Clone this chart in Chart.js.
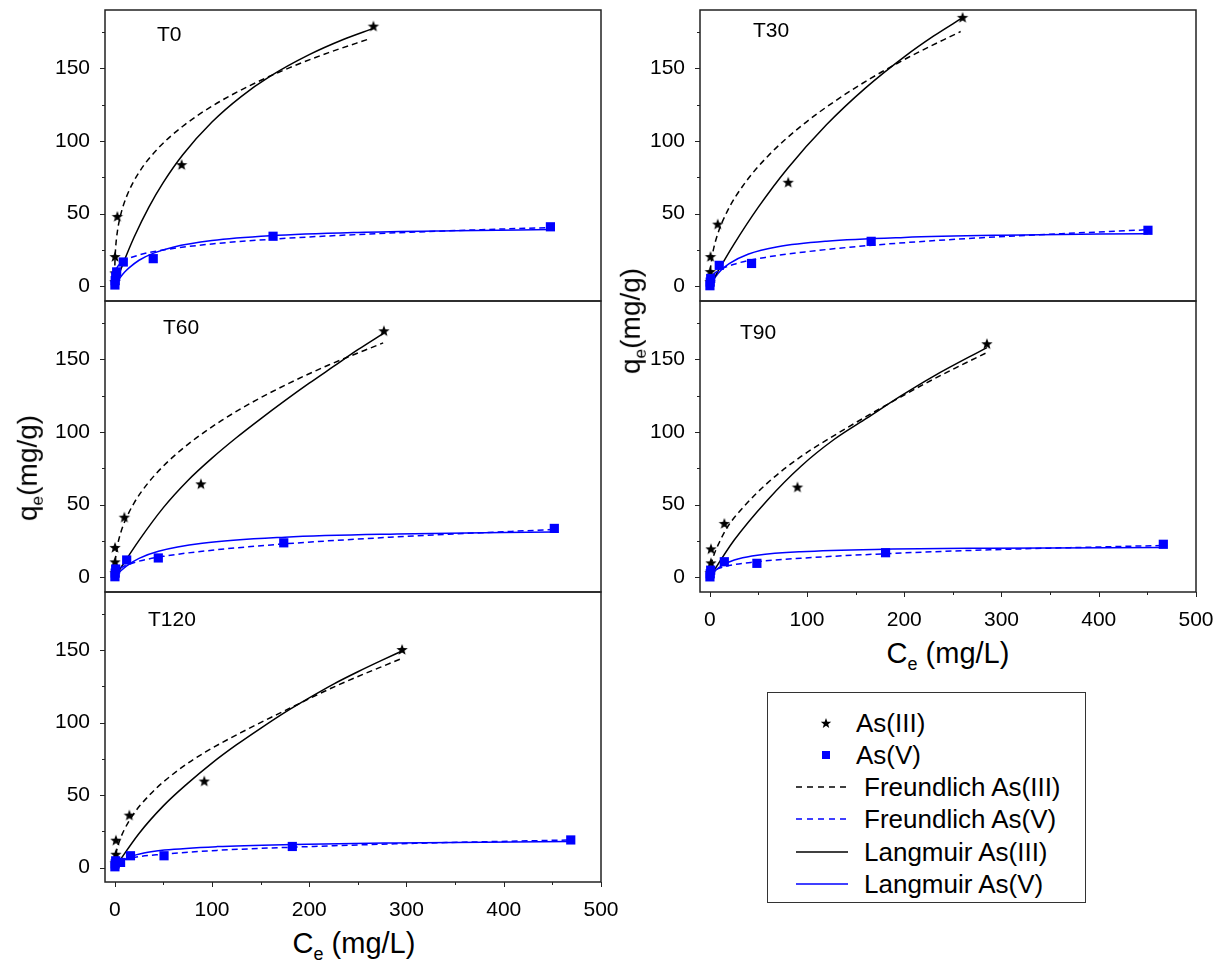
<!DOCTYPE html>
<html lang="en">
<head>
<meta charset="UTF-8">
<title>As(III) / As(V) adsorption isotherms</title>
<script src="https://cdn.jsdelivr.net/npm/chart.js"></script>
<style>
    body { margin: 0; background: #fff; font-family: "Liberation Sans", Arial, sans-serif; }
    #page { position: relative; width: 1220px; height: 966px; overflow: hidden; }
    #page canvas { position: absolute; }
    .title { position: absolute; color: #000; white-space: nowrap; line-height: 1; }
    .title sub { font-size: 62%; vertical-align: -0.35em; }
    .ytitle { font-size: 28px; transform: translate(-50%, -50%) rotate(-90deg); }
    .xtitle { font-size: 29px; transform: translate(-50%, -50%); }
    #legend { position: absolute; left: 767px; top: 692px; width: 319px; height: 211px;
              border: 1px solid #333; box-sizing: border-box; }
    #legend svg { position: absolute; }
    #legend span { position: absolute; font-size: 26px; line-height: 30px; color: #000; white-space: nowrap; }
</style>
</head>
<body>
<div id="page">
    <canvas id="cT0"></canvas>
    <canvas id="cT60"></canvas>
    <canvas id="cT120"></canvas>
    <canvas id="cT30"></canvas>
    <canvas id="cT90"></canvas>

    <div class="title ytitle" style="left:30px; top:468px;">q<sub>e</sub>(mg/g)</div>
    <div class="title ytitle" style="left:633px; top:321px;">q<sub>e</sub>(mg/g)</div>
    <div class="title xtitle" style="left:354px; top:946px;">C<sub>e</sub> (mg/L)</div>
    <div class="title xtitle" style="left:948px; top:656px;">C<sub>e</sub> (mg/L)</div>

    <div id="legend"></div>
</div>

<script>
// axis ticks
const xMajor = [0, 100, 200, 300, 400, 500];
const xMinor = [50, 150, 250, 350, 450];
const yMajor = [0, 50, 100, 150];
const yMinor = [25, 75, 125, 175];

// T0
const t0As3 = [[0.1, 3], [0.2, 9], [0.3, 20.2], [2.7, 47.8], [68.8, 83.4], [266, 178.6]];
const t0As5 = [[0.2, 1], [0.5, 4], [1, 7], [2, 10], [8.8, 16.8], [39.6, 19.1], [162.8, 34.5], [448, 41]];
const t0FreAs3 = [[0.02, 7.5], [0.1, 12.7], [0.3, 18.2], [1, 27.1], [2.7, 37.6], [6, 48.9], [12, 61.5], [25, 78.4],
                  [45, 95.2], [70, 110.1], [100, 123.9], [140, 138.4], [180, 150.4], [220, 160.7], [262, 170.2]];
const t0FreAs5 = [[0.02, 4.6], [0.1, 6.5], [0.3, 8.2], [1, 10.7], [3, 13.6], [10, 17.7], [25, 21.6], [50, 25.1],
                  [100, 29.2], [160, 32.4], [250, 35.7], [350, 38.4], [448, 40.5]];
const t0LanAs3 = [[0.5, 1], [5, 9.4], [10, 18.1], [20, 34], [35, 54.4], [50, 71.5], [70, 90.5], [100, 113],
                  [130, 130.5], [160, 144.5], [200, 159.3], [235, 169.7], [266, 177.4]];
const t0LanAs5 = [[0.2, 0.25], [1, 1.2], [3, 3.5], [6, 6.4], [10, 9.7], [15, 12.9], [25, 18], [40, 22.9],
                  [60, 27], [100, 31.5], [160, 34.8], [250, 37.1], [350, 38.3], [448, 39.1]];

// T30
const t30As3 = [[0.3, 3], [0.6, 9.9], [0.8, 20.2], [8.2, 42.5], [80.7, 71.3], [260, 184.6]];
const t30As5 = [[0.2, 0.5], [0.5, 3], [1, 5.5], [9.8, 14.5], [43, 15.8], [166, 31], [450.6, 38.6]];
const t30FreAs3 = [[0.05, 3.5], [0.3, 7.9], [1, 13.7], [3, 22.7], [8, 35.6], [18, 51.6], [35, 70], [60, 89.7],
                   [95, 110.8], [130, 127.9], [165, 142.8], [205, 157.7], [258, 175.2]];
const t30FreAs5 = [[0.05, 2], [0.3, 3.6], [1, 5.4], [3, 7.7], [10, 11.3], [25, 15.3], [60, 20.3], [100, 23.9],
                   [170, 28.5], [280, 33.5], [450.6, 39]];
const t30LanAs3 = [[0.6, 0.75], [5, 6.2], [10, 12.2], [25, 29.1], [50, 54.5], [80, 81.1], [120, 111.1],
                   [160, 136.3], [200, 157.8], [230, 172], [260, 184.7]];
const t30LanAs5 = [[0.3, 0.4], [1, 1.3], [3, 3.6], [6, 6.6], [11.6, 11.1], [20, 15.7], [40, 22.3], [70, 27.3],
                   [120, 31.1], [200, 33.7], [300, 35.2], [450.6, 36.3]];

// T60
const t60As3 = [[0.3, 3], [0.3, 10.4], [0.3, 20.3], [9.9, 41.1], [88.6, 64], [276.8, 169.2]];
const t60As5 = [[0.2, 0.5], [0.5, 3], [1, 5.8], [12.3, 12], [44.8, 13.4], [173.8, 23.8], [452, 33.7]];
const t60FreAs3 = [[0.05, 3.8], [0.3, 8.2], [1, 13.9], [3, 22.4], [6, 30.4], [10, 37.9], [20, 51.3], [35, 65.5],
                   [55, 79.8], [80, 93.9], [110, 107.9], [145, 121.7], [180, 133.7], [220, 146], [276, 161.2]];
const t60FreAs5 = [[0.05, 1.1], [0.3, 2.1], [1, 3.35], [3, 5.05], [10, 7.9], [25, 11.2], [50, 14.5], [100, 18.7],
                   [175, 23.1], [290, 27.9], [452, 33]];
const t60LanAs3 = [[2, 2.3], [25, 25.5], [50, 48], [75, 66.5], [100, 82], [125, 96], [150, 109], [175, 121.5],
                   [200, 133.5], [225, 145], [250, 156.5], [276.8, 168]];
const t60LanAs5 = [[0.3, 0.25], [1, 0.83], [3, 2.4], [6, 4.4], [12, 7.85], [25, 13.1], [45, 18], [90, 23.5],
                   [175, 27.7], [290, 29.9], [452, 31.2]];

// T90
const t90As3 = [[0.5, 3], [1.3, 9.7], [1.3, 19.3], [15, 36.8], [90.2, 61.8], [285, 160.3]];
const t90As5 = [[0.2, 0.4], [0.5, 2.5], [1, 5], [15, 10.8], [48.5, 9.7], [180.8, 17], [466.4, 22.8]];
const t90FreAs3 = [[0.05, 1.4], [0.3, 3.7], [1, 7.1], [3, 12.8], [9.8, 24], [18.5, 34.9], [35.5, 49],
                   [59.5, 65], [93.6, 83], [127.8, 97.5], [162, 111], [196.2, 124], [230.4, 136.4], [285, 154.6]];
const t90FreAs5 = [[0.05, 1.2], [0.3, 2.2], [1, 3.2], [3, 4.3], [15, 7.4], [49, 10.8], [93.6, 13.2],
                   [180, 16.3], [288, 19], [466.4, 22]];
const t90LanAs3 = [[1, 1], [3, 3.2], [25.2, 25.7], [59.5, 53.3], [93.6, 76.3], [127.8, 94.8], [162, 109.7],
                   [196.2, 124.6], [230.4, 138.4], [285, 158]];
const t90LanAs5 = [[0.3, 0.3], [2, 2], [5, 4.3], [15, 9.2], [30, 12.9], [49, 15.3], [93.6, 17.7],
                   [180, 19.4], [288, 20.1], [466.4, 20.6]];

// T120
const t120As3 = [[0.5, 3], [1.2, 8.8], [1.2, 18.5], [15, 35.8], [92.1, 59.3], [295.5, 150]];
const t120As5 = [[0.2, 0.5], [0.5, 2.5], [1, 4.6], [6, 3.5], [16.2, 8.1], [50.7, 8.1], [182.6, 14.5], [468.9, 19]];
const t120FreAs3 = [[0.05, 1.9], [0.5, 5.9], [1.5, 10.2], [4, 16.6], [15, 32.3], [36.5, 50.5], [65, 67],
                    [93, 79.5], [134, 94.5], [174.5, 108], [227, 125], [295.5, 144.3]];
const t120FreAs5 = [[0.05, 1], [0.3, 1.7], [1, 2.6], [3, 3.4], [16.2, 6.4], [50.7, 9.2], [105, 11.8],
                    [183, 14], [288, 16.3], [468.9, 19]];
const t120LanAs3 = [[1, 0.8], [25, 23.5], [50, 42.5], [75, 58], [100, 72], [125, 84.5], [150, 96], [175, 107],
                    [200, 117], [225, 126.5], [250, 135], [275, 143], [295.5, 149.3]];
const t120LanAs5 = [[0.3, 0.2], [2, 1.4], [6, 3.8], [16, 7.4], [30, 10], [51, 12], [105, 14.4],
                    [183, 15.9], [288, 16.9], [468.9, 17.9]];

const seriesNames = ['As(III)', 'As(V)', 'Freundlich As(III)', 'Freundlich As(V)', 'Langmuir As(III)', 'Langmuir As(V)'];

const BLUE = '#0000ff';
const BLACK = '#000000';
const Y_AXIS_W = 80, PAD_T = 12, PAD_R = 26, X_AXIS_H = 40, PLOT_W = 496;
const FONT = '"Liberation Sans", Arial, sans-serif';

Chart.defaults.font.family = FONT;

// filled five-point star used as the As(III) marker
function starMarker(r) {
    const c = document.createElement('canvas');
    const s = Math.ceil(r * 2) + 2;
    c.width = c.height = s;
    const g = c.getContext('2d');
    g.beginPath();
    for (let i = 0; i < 10; i++) {
        const rad = i % 2 ? r * 0.42 : r;
        const a = -Math.PI / 2 + i * Math.PI / 5;
        const px = s / 2 + rad * Math.cos(a), py = s / 2 + rad * Math.sin(a);
        if (i) g.lineTo(px, py); else g.moveTo(px, py);
    }
    g.closePath();
    g.fillStyle = BLACK;
    g.fill();
    return c;
}
const STAR = starMarker(6);

const panels = [
    { name: 'T0',   id: 'cT0',   left: 105, top: 10,  h: 291, showX: false, dx: 52, dy: 25,
      as3: t0As3, as5: t0As5, fre3: t0FreAs3, fre5: t0FreAs5, lan3: t0LanAs3, lan5: t0LanAs5 },
    { name: 'T60',  id: 'cT60',  left: 105, top: 301, h: 291, showX: false, dx: 58, dy: 27,
      as3: t60As3, as5: t60As5, fre3: t60FreAs3, fre5: t60FreAs5, lan3: t60LanAs3, lan5: t60LanAs5 },
    { name: 'T120', id: 'cT120', left: 105, top: 592, h: 290, showX: true,  dx: 43, dy: 28,
      as3: t120As3, as5: t120As5, fre3: t120FreAs3, fre5: t120FreAs5, lan3: t120LanAs3, lan5: t120LanAs5 },
    { name: 'T30',  id: 'cT30',  left: 700, top: 10,  h: 291, showX: false, dx: 53, dy: 21,
      as3: t30As3, as5: t30As5, fre3: t30FreAs3, fre5: t30FreAs5, lan3: t30LanAs3, lan5: t30LanAs5 },
    { name: 'T90',  id: 'cT90',  left: 700, top: 301, h: 291, showX: true,  dx: 40, dy: 32,
      as3: t90As3, as5: t90As5, fre3: t90FreAs3, fre5: t90FreAs5, lan3: t90LanAs3, lan5: t90LanAs5 }
];

const toPts = arr => arr.map(([x, y]) => ({ x, y }));

function fitLine(label, data, color, dashed) {
    return {
        label, data: toPts(data), showLine: true, fill: false,
        borderColor: color, backgroundColor: color, borderWidth: 1.5,
        borderDash: dashed ? [6, 4] : [], pointRadius: 0,
        cubicInterpolationMode: 'monotone'
    };
}

function zeroPadding(ax) {
    ax.paddingTop = 0; ax.paddingBottom = 0; ax.paddingLeft = 0; ax.paddingRight = 0;
}

// frame, tick marks and the panel name
const panelDecor = {
    id: 'panelDecor',
    afterDraw(chart, args, opts) {
        const { ctx, chartArea: a, scales: { x, y } } = chart;
        ctx.save();
        ctx.strokeStyle = '#222';
        ctx.lineWidth = 1;
        ctx.beginPath();
        yMajor.forEach(v => { const py = Math.round(y.getPixelForValue(v)) + 0.5; ctx.moveTo(a.left - 5, py); ctx.lineTo(a.left, py); });
        yMinor.forEach(v => { const py = Math.round(y.getPixelForValue(v)) + 0.5; ctx.moveTo(a.left - 3, py); ctx.lineTo(a.left, py); });
        if (opts.showX) {
            xMajor.forEach(v => { const px = Math.round(x.getPixelForValue(v)) + 0.5; ctx.moveTo(px, a.bottom); ctx.lineTo(px, a.bottom + 5); });
            xMinor.forEach(v => { const px = Math.round(x.getPixelForValue(v)) + 0.5; ctx.moveTo(px, a.bottom); ctx.lineTo(px, a.bottom + 3); });
        }
        ctx.stroke();
        ctx.lineWidth = 1.5;
        ctx.strokeRect(a.left, a.top, a.right - a.left, a.bottom - a.top);
        ctx.fillStyle = BLACK;
        ctx.font = '21px ' + FONT;
        ctx.textBaseline = 'middle';
        ctx.textAlign = 'left';
        ctx.fillText(opts.name, a.left + opts.dx, a.top + opts.dy);
        ctx.restore();
    }
};

panels.forEach(p => {
    const cv = document.getElementById(p.id);
    const w = Y_AXIS_W + PLOT_W + PAD_R;
    const h = PAD_T + p.h + (p.showX ? X_AXIS_H : PAD_T);
    cv.width = w; cv.height = h;
    cv.style.left = (p.left - Y_AXIS_W) + 'px';
    cv.style.top = (p.top - PAD_T) + 'px';

    new Chart(cv, {
        type: 'scatter',
        data: {
            datasets: [
                { label: seriesNames[1], data: toPts(p.as5), pointStyle: 'rect', pointRadius: 6.5,
                  backgroundColor: BLUE, borderColor: BLUE, borderWidth: 0 },
                { label: seriesNames[0], data: toPts(p.as3), pointStyle: STAR, pointRadius: 6,
                  backgroundColor: BLACK, borderColor: BLACK },
                fitLine(seriesNames[2], p.fre3, BLACK, true),
                fitLine(seriesNames[3], p.fre5, BLUE, true),
                fitLine(seriesNames[4], p.lan3, BLACK, false),
                fitLine(seriesNames[5], p.lan5, BLUE, false)
            ]
        },
        options: {
            responsive: false,
            animation: false,
            events: [],
            layout: { padding: { top: PAD_T, right: PAD_R, bottom: p.showX ? 0 : PAD_T, left: 0 } },
            plugins: {
                legend: { display: false },
                tooltip: { enabled: false },
                panelDecor: { name: p.name, dx: p.dx, dy: p.dy, showX: p.showX }
            },
            scales: {
                x: {
                    type: 'linear', min: -10, max: 500, display: p.showX,
                    grid: { display: false }, border: { display: false },
                    afterBuildTicks: ax => { ax.ticks = xMajor.map(v => ({ value: v })); },
                    afterFit: ax => { ax.height = p.showX ? X_AXIS_H : 0; zeroPadding(ax); },
                    ticks: { color: BLACK, padding: 8, maxRotation: 0, autoSkip: false, font: { size: 21 } }
                },
                y: {
                    type: 'linear', min: -10, max: 190,
                    grid: { display: false }, border: { display: false },
                    afterBuildTicks: ax => { ax.ticks = yMajor.map(v => ({ value: v })); },
                    afterFit: ax => { ax.width = Y_AXIS_W; zeroPadding(ax); },
                    ticks: { color: BLACK, padding: 7, font: { size: 21 } }
                }
            }
        },
        plugins: [panelDecor]
    });
});

// legend box
const legendRows = [
    { text: seriesNames[0], y: 30,  kind: 'star' },
    { text: seriesNames[1], y: 62,  kind: 'square' },
    { text: seriesNames[2], y: 94,  kind: 'line', color: BLACK, dash: '6 5' },
    { text: seriesNames[3], y: 126, kind: 'line', color: BLUE,  dash: '6 5' },
    { text: seriesNames[4], y: 159, kind: 'line', color: BLACK, dash: '' },
    { text: seriesNames[5], y: 191, kind: 'line', color: BLUE,  dash: '' }
];
const legend = document.getElementById('legend');
legendRows.forEach(r => {
    const svgNS = 'http://www.w3.org/2000/svg';
    const svg = document.createElementNS(svgNS, 'svg');
    svg.setAttribute('width', 60); svg.setAttribute('height', 16);
    svg.style.left = '26px'; svg.style.top = (r.y - 8) + 'px';
    let mark;
    if (r.kind === 'line') {
        mark = document.createElementNS(svgNS, 'line');
        mark.setAttribute('x1', 2); mark.setAttribute('x2', 54);
        mark.setAttribute('y1', 8); mark.setAttribute('y2', 8);
        mark.setAttribute('stroke', r.color); mark.setAttribute('stroke-width', 1.5);
        if (r.dash) mark.setAttribute('stroke-dasharray', r.dash);
    } else if (r.kind === 'square') {
        mark = document.createElementNS(svgNS, 'rect');
        mark.setAttribute('x', 28); mark.setAttribute('y', 4);
        mark.setAttribute('width', 8); mark.setAttribute('height', 8);
        mark.setAttribute('fill', BLUE);
    } else {
        mark = document.createElementNS(svgNS, 'polygon');
        const pts = [];
        for (let i = 0; i < 10; i++) {
            const rad = i % 2 ? 2.3 : 5.5;
            const a = -Math.PI / 2 + i * Math.PI / 5;
            pts.push((32 + rad * Math.cos(a)).toFixed(2) + ',' + (8.5 + rad * Math.sin(a)).toFixed(2));
        }
        mark.setAttribute('points', pts.join(' '));
        mark.setAttribute('fill', BLACK);
    }
    svg.appendChild(mark);
    legend.appendChild(svg);

    const span = document.createElement('span');
    span.textContent = r.text;
    span.style.left = (r.kind === 'line' ? 96 : 88) + 'px';
    span.style.top = (r.y - 15) + 'px';
    legend.appendChild(span);
});
</script>
</body>
</html>
